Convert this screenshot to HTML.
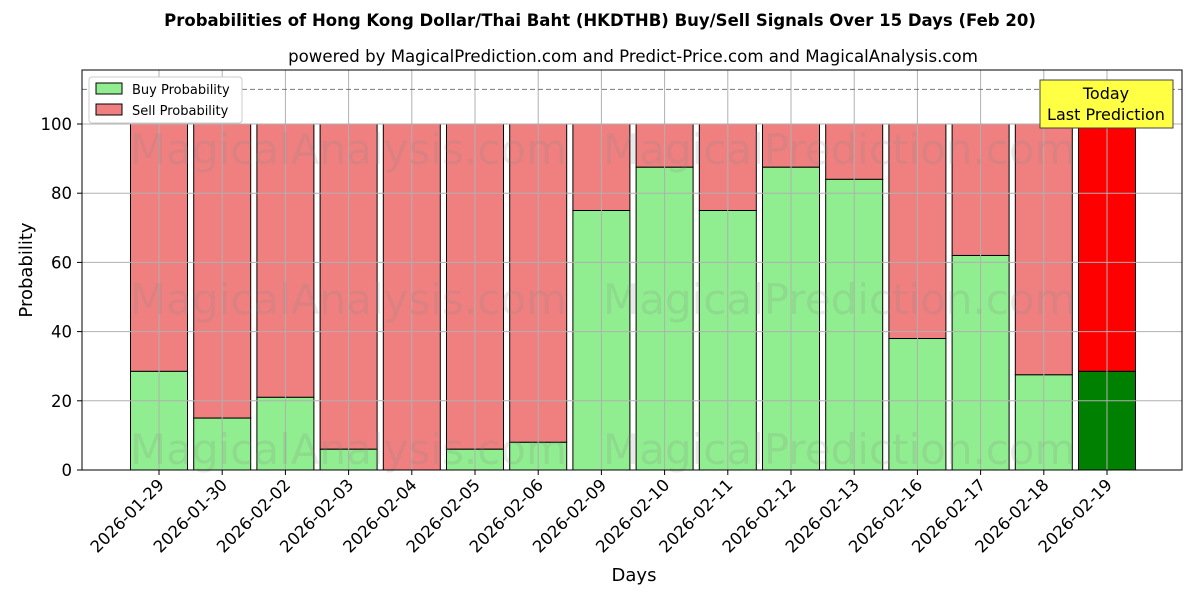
<!DOCTYPE html>
<html><head><meta charset="utf-8"><style>
body{margin:0;background:#fff;font-family:"DejaVu Sans","Liberation Sans",sans-serif}
svg text{font-family:"DejaVu Sans","Liberation Sans",sans-serif}
</style></head><body>
<svg id="c" width="1200" height="600" xmlns="http://www.w3.org/2000/svg">
<text x="600" y="26" text-anchor="middle" font-size="16.5" font-weight="bold">Probabilities of Hong Kong Dollar/Thai Baht (HKDTHB) Buy/Sell Signals Over 15 Days (Feb 20)</text>
<text x="633" y="62" text-anchor="middle" font-size="16.6">powered by MagicalPrediction.com and Predict-Price.com and MagicalAnalysis.com</text>
<g id="bars"></g><g id="grid"></g><g id="ticks"></g>
<g opacity="0.18" font-size="42" fill="#888">
<text x="130" y="164">MagicalAnalysis.com</text><text x="603" y="164">MagicalPrediction.com</text>
<text x="130" y="314">MagicalAnalysis.com</text><text x="603" y="314">MagicalPrediction.com</text>
<text x="130" y="464">MagicalAnalysis.com</text><text x="603" y="464">MagicalPrediction.com</text>
</g>
<line x1="82" x2="1182" y1="89.4" y2="89.4" stroke="#777" stroke-dasharray="5,3"/>
<rect x="82" y="70" width="1100" height="400" fill="none" stroke="#000"/>
<text x="634" y="581" text-anchor="middle" font-size="18">Days</text>
<text transform="translate(32,270) rotate(-90)" text-anchor="middle" font-size="18">Probability</text>
<g>
<rect x="89" y="77" width="153" height="46" fill="#fff" stroke="#ccc" rx="3"/>
<rect x="96" y="83" width="26" height="11" fill="#90ee90" stroke="#000"/>
<text x="132" y="94" font-size="13">Buy Probability</text>
<rect x="96" y="104" width="26" height="11" fill="#f08080" stroke="#000"/>
<text x="132" y="115" font-size="13">Sell Probability</text>
</g>
<g>
<rect x="1040" y="80" width="133" height="48" fill="#ffff44" stroke="#444"/>
<text x="1106" y="99" text-anchor="middle" font-size="16">Today</text>
<text x="1106" y="120" text-anchor="middle" font-size="16">Last Prediction</text>
</g>
</svg>
<script>
const categories=["2026-01-29","2026-01-30","2026-02-02","2026-02-03","2026-02-04","2026-02-05","2026-02-06","2026-02-09","2026-02-10","2026-02-11","2026-02-12","2026-02-13","2026-02-16","2026-02-17","2026-02-18","2026-02-19"];
const buyValues=[28.5,15,21,6,0,6,8,75,87.5,75,87.5,84,38,62,27.5,28.5];
const yTicks=[0,20,40,60,80,100];
const NS="http://www.w3.org/2000/svg";
const y=v=>470-v*3.46, x=i=>159+i*63.2;
function mk(t,a,p){const e=document.createElementNS(NS,t);for(const k in a)e.setAttribute(k,a[k]);document.getElementById(p).appendChild(e);return e;}
yTicks.forEach(v=>{
 const g=mk('line',{x1:82,x2:1182,y1:y(v),y2:y(v),stroke:'#b0b0b0','stroke-width':1},'grid');
 
 
 mk('line',{x1:77,x2:82,y1:y(v),y2:y(v),stroke:'#000'},'ticks');
 const t=mk('text',{x:72,y:y(v)+6,'text-anchor':'end','font-size':16.5},'ticks');t.textContent=v;
 
 
});
categories.forEach((c,i)=>{
 const g=mk('line',{x1:x(i),x2:x(i),y1:70,y2:470,stroke:'#b0b0b0'},'grid');
 
 
 const last=i===categories.length-1, b=buyValues[i];
 const s=mk('rect',{x:x(i)-28.5,y:y(100),width:57,height:y(b)-y(100),fill:last?'#ff0000':'#f08080',stroke:'#000'},'bars');
 
 
 const r=mk('rect',{x:x(i)-28.5,y:y(b),width:57,height:y(0)-y(b),fill:last?'#008000':'#90ee90',stroke:'#000'},'bars');
 
 
 mk('line',{x1:x(i),x2:x(i),y1:470,y2:475,stroke:'#000'},'ticks');
 const t=mk('text',{transform:`translate(${x(i)+6},${486}) rotate(-45)`,'text-anchor':'end','font-size':16.5},'ticks');t.textContent=c;
 
 
});
</script>
</body></html>
